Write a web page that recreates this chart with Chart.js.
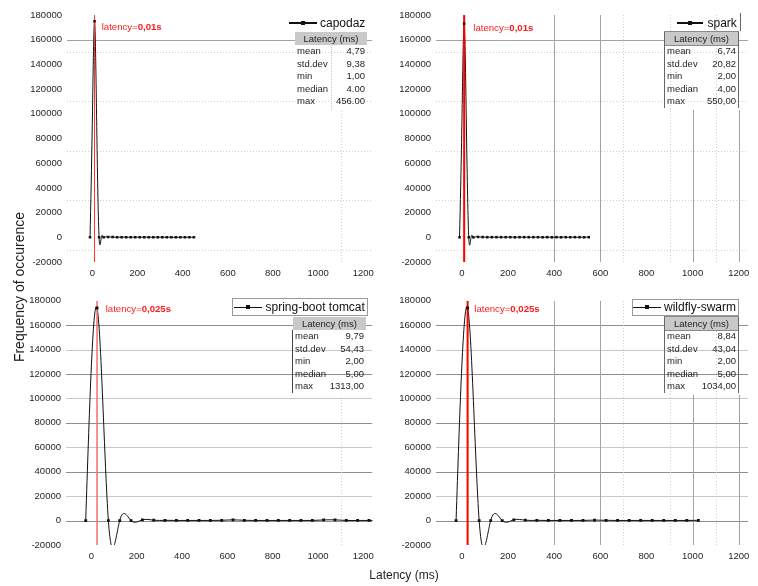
<!DOCTYPE html>
<html>
<head>
<meta charset="utf-8">
<script src="https://cdn.jsdelivr.net/npm/chart.js@4.4.1/dist/chart.umd.min.js"></script>
<style>
  body { margin: 0; background: #fff; font-family: "Liberation Sans", Arial, sans-serif; }
  #page { position: relative; width: 758px; height: 586px; overflow: hidden; }
  #page canvas { position: absolute; }
  .txt { position: absolute; white-space: nowrap; color: #1e1e1e; line-height: 12px; }
  .red { color: #ff1a1a; font-size: 9.6px; }
  .tbl { position: absolute; font-size: 9.5px; color: #1e1e1e; }
  .tbl .hd { height: 13px; line-height: 13px; background: #c9c9c9; text-align: center; }
  .tbl .row { height: 12.6px; line-height: 12.6px; display: flex; justify-content: space-between; padding: 0 2px 0 2px; }
  .leg-line { position: absolute; background: #111; }
  .leg-mark { position: absolute; width: 4px; height: 4px; background: #111; }
</style>
</head>
<body>
<div id="page"></div>
<script>
// latency bins (ms) and counts
const capodazLatency = [
  -10, 0, 10, 20, 30, 40, 50, 60, 70, 80,
  90, 100, 110, 120, 130, 140, 150, 160, 170, 180,
  190, 200, 210, 220, 230, 240, 250, 260, 270, 280,
  290, 300, 310, 320, 330, 340, 350, 360, 370, 380,
  390, 400, 410, 420, 430, 440, 450
];
const capodazCount = [
  0, 92000, 175000, 86000, 0, 0, 0, 400, 300, 200,
  200, 100, 100, 100, 100, 100, 100, 0, 100, 100,
  100, 100, 0, 100, 100, 100, 0, 100, 100, 100,
  0, 100, 100, 0, 100, 100, 0, 0, 100, 0,
  100, 0, 0, 100, 0, 0, 100
];

const sparkLatency = [
  -10, 0, 10, 20, 30, 40, 50, 60, 70, 80,
  90, 100, 110, 120, 130, 140, 150, 160, 170, 180,
  190, 200, 210, 220, 230, 240, 250, 260, 270, 280,
  290, 300, 310, 320, 330, 340, 350, 360, 370, 380,
  390, 400, 410, 420, 430, 440, 450, 460, 470, 480,
  490, 500, 510, 520, 530, 540, 550
];
const sparkCount = [
  0, 90000, 173000, 87000, 0, 0, 0, 400, 300, 200,
  200, 100, 100, 100, 100, 100, 100, 100, 100, 100,
  100, 100, 100, 100, 0, 100, 100, 100, 100, 100,
  100, 0, 100, 100, 100, 100, 0, 100, 100, 100,
  0, 100, 100, 100, 0, 100, 100, 0, 100, 100,
  100, 0, 100, 100, 0, 100, 100
];

const springLatency = [
  -25, 25, 75, 125, 175, 225, 275, 325, 375, 425,
  475, 525, 575, 625, 675, 725, 775, 825, 875, 925,
  975, 1025, 1075, 1125, 1175, 1225, 1275, 1325
];
const springCount = [
  0, 174000, 0, 0, 0, 600, 300, 200, 100, 100,
  100, 100, 200, 600, 200, 100, 100, 100, 100, 100,
  100, 500, 600, 100, 100, 100, 100, 100
];

const wildflyLatency = [
  -25, 25, 75, 125, 175, 225, 275, 325, 375, 425,
  475, 525, 575, 625, 675, 725, 775, 825, 875, 925,
  975, 1025
];
const wildflyCount = [
  0, 174000, 0, 0, 0, 600, 300, 200, 100, 100,
  100, 100, 400, 200, 100, 100, 100, 100, 100, 100,
  100, 200
];

const seriesNames = ['capodaz', 'spark', 'spring-boot tomcat', 'wildfly-swarm'];
const latencyMarks = [10, 10, 25, 25];
const latencyLabels = ['0,01s', '0,01s', '0,025s', '0,025s'];

const statLabels = ['mean', 'std.dev', 'min', 'median', 'max'];
const capodazStats = ['4,79', '9,38', '1,00', '4.00', '456.00'];
const sparkStats = ['6,74', '20,82', '2,00', '4,00', '550,00'];
const springStats = ['9,79', '54,43', '2,00', '5,00', '1313,00'];
const wildflyStats = ['8,84', '43,04', '2,00', '5,00', '1034,00'];

const yTicks = { min: -20000, max: 180000, step: 20000 };
const xTicks = { min: -112, max: 1240, step: 200 };

// reference lines of the original figure (data units)
const topGrid = [[160000, 'solid'], [150000, 'dot'], [110000, 'dot'], [70000, 'dot'], [30000, 'dot'], [-10000, 'dot']];
const bottomGrid = [[160000, 'dark'], [140000, 'light'], [120000, 'dark'], [100000, 'light'], [80000, 'dark'],
  [60000, 'light'], [40000, 'dark'], [20000, 'light'], [0, 'dark'], [-20000, 'dark']];
const leftVLines = [[1100, 'dot', -20000, 103000]];
const rightVLines = [[400, 'solid'], [600, 'solid'], [700, 'dot'], [900, 'dot'], [1100, 'dot'],
  [1000, 'solid', -20000, 103000], [1200, 'solid', -20000, 103000]];

const lineStyles = {
  solid: { color: '#a3a3a3', dash: [] },
  dark: { color: '#8e8e8e', dash: [] },
  light: { color: '#c8c8c8', dash: [] },
  dot: { color: '#cfcfcf', dash: [1, 2] }
};

const FONT = '"Liberation Sans", Arial, sans-serif';

const panels = [
  { name: seriesNames[0], xs: capodazLatency, ys: capodazCount, stats: capodazStats, lat: latencyMarks[0], latText: latencyLabels[0],
    left: 0, top: 0, w: 380, h: 290, yAxisW: 67, xAxisH: 28, padTop: 15, padRight: 0, markEvery: 2, markR: 1.8,
    hLines: topGrid, vLines: leftVLines, red: { color: '#ff2a2a', width: 1 },
    legend: { x1: 289, x2: 317, y: 22.7, tx: 320, lw: 2 }, redLabel: { x: 101.7, y: 27.3 },
    table: { left: 295, top: 32, w: 72, sides: 'sep' } },
  { name: seriesNames[1], xs: sparkLatency, ys: sparkCount, stats: sparkStats, lat: latencyMarks[1], latText: latencyLabels[1],
    left: 380, top: 0, w: 378, h: 290, yAxisW: 56, xAxisH: 28, padTop: 15, padRight: 10, markEvery: 2, markR: 1.8,
    hLines: topGrid, vLines: rightVLines, red: { color: '#ff0000', width: 2 },
    legend: { x1: 677, x2: 703, y: 22.7, tx: 707.5, edge: 740, lw: 2 }, redLabel: { x: 473.3, y: 27.7 },
    table: { left: 665, top: 32, w: 73, sides: 'both' } },
  { name: seriesNames[2], xs: springLatency, ys: springCount, stats: springStats, lat: latencyMarks[2], latText: latencyLabels[2],
    left: 0, top: 290, w: 380, h: 296, yAxisW: 66, xAxisH: 41, padTop: 8, padRight: 0, markEvery: 1, markR: 2,
    hLines: bottomGrid, vLines: leftVLines, red: { color: '#f26d6d', width: 1.5 },
    legend: { x1: 234, x2: 262, y: 307.3, tx: 265.5, box: [232, 298, 136, 18], lw: 1.3 }, redLabel: { x: 105.7, y: 309 },
    table: { left: 293, top: 317, w: 73, sides: 'left' } },
  { name: seriesNames[3], xs: wildflyLatency, ys: wildflyCount, stats: wildflyStats, lat: latencyMarks[3], latText: latencyLabels[3],
    left: 380, top: 290, w: 378, h: 296, yAxisW: 56, xAxisH: 41, padTop: 8, padRight: 10, markEvery: 1, markR: 2,
    hLines: bottomGrid, vLines: rightVLines, red: { color: '#ff0000', width: 2 },
    legend: { x1: 633, x2: 661, y: 307.3, tx: 664, box: [632, 299, 107, 17], lw: 1.3 }, redLabel: { x: 474.3, y: 309 },
    table: { left: 665, top: 317, w: 73, sides: 'both' } }
];

// natural cubic spline second derivatives (the figure's curves are spline-connected)
function naturalSpline(xs, ys) {
  const n = xs.length;
  const M = new Array(n).fill(0);
  if (n < 3) return M;
  const a = [], b = [], c = [], d = [];
  for (let i = 1; i < n - 1; i++) {
    const h0 = xs[i] - xs[i - 1], h1 = xs[i + 1] - xs[i];
    a.push(h0); b.push(2 * (h0 + h1)); c.push(h1);
    d.push(6 * ((ys[i + 1] - ys[i]) / h1 - (ys[i] - ys[i - 1]) / h0));
  }
  const m = a.length;
  for (let i = 1; i < m; i++) {
    const w = a[i] / b[i - 1];
    b[i] -= w * c[i - 1];
    d[i] -= w * d[i - 1];
  }
  const sol = new Array(m);
  sol[m - 1] = d[m - 1] / b[m - 1];
  for (let i = m - 2; i >= 0; i--) sol[i] = (d[i] - c[i] * sol[i + 1]) / b[i];
  for (let i = 0; i < m; i++) M[i + 1] = sol[i];
  return M;
}

const refLinesPlugin = {
  id: 'refLines',
  beforeDatasetsDraw(chart, args, opts) {
    const { ctx, chartArea: area, scales: { x, y } } = chart;
    ctx.save();
    ctx.beginPath(); ctx.rect(area.left, area.top, area.width, area.height); ctx.clip();
    ctx.lineWidth = 1;
    opts.h.forEach(([v, s]) => {
      const st = lineStyles[s];
      const py = Math.round(y.getPixelForValue(v)) + 0.5;
      ctx.strokeStyle = st.color; ctx.setLineDash(st.dash);
      ctx.beginPath(); ctx.moveTo(area.left, py); ctx.lineTo(area.right, py); ctx.stroke();
    });
    opts.v.forEach(([v, s, from, to]) => {
      const st = lineStyles[s];
      const px = Math.round(x.getPixelForValue(v)) + 0.5;
      const y0 = from === undefined ? area.bottom : y.getPixelForValue(from);
      const y1 = to === undefined ? area.top : y.getPixelForValue(to);
      ctx.strokeStyle = st.color; ctx.setLineDash(st.dash);
      ctx.beginPath(); ctx.moveTo(px, y0); ctx.lineTo(px, y1); ctx.stroke();
    });
    ctx.restore();
  }
};

const splinePlugin = {
  id: 'splineLine',
  beforeDatasetsDraw(chart) {
    const pts = chart.data.datasets[0].data;
    const xs = pts.map(p => p.x), ys = pts.map(p => p.y);
    const M = naturalSpline(xs, ys);
    const { ctx, chartArea: area, scales: { x: sx, y: sy } } = chart;
    ctx.save();
    ctx.beginPath(); ctx.rect(area.left, area.top, area.width, area.height); ctx.clip();
    ctx.beginPath();
    ctx.moveTo(sx.getPixelForValue(xs[0]), sy.getPixelForValue(ys[0]));
    for (let i = 0; i < xs.length - 1; i++) {
      const h = xs[i + 1] - xs[i];
      const s = (ys[i + 1] - ys[i]) / h;
      const d0 = s - h * (2 * M[i] + M[i + 1]) / 6;
      const d1 = s + h * (M[i] + 2 * M[i + 1]) / 6;
      ctx.bezierCurveTo(
        sx.getPixelForValue(xs[i] + h / 3), sy.getPixelForValue(ys[i] + d0 * h / 3),
        sx.getPixelForValue(xs[i + 1] - h / 3), sy.getPixelForValue(ys[i + 1] - d1 * h / 3),
        sx.getPixelForValue(xs[i + 1]), sy.getPixelForValue(ys[i + 1]));
    }
    ctx.strokeStyle = '#111';
    ctx.lineWidth = 1;
    ctx.stroke();
    ctx.restore();
  }
};

const page = document.getElementById('page');

function el(cls, css, html) {
  const d = document.createElement('div');
  if (cls) d.className = cls;
  Object.assign(d.style, css);
  if (html !== undefined) d.innerHTML = html;
  page.appendChild(d);
  return d;
}

function px(v) { return v + 'px'; }

function drawPanel(p) {
  const canvas = document.createElement('canvas');
  canvas.width = p.w; canvas.height = p.h;
  canvas.style.left = px(p.left); canvas.style.top = px(p.top);
  page.appendChild(canvas);

  new Chart(canvas.getContext('2d'), {
    type: 'scatter',
    data: {
      datasets: [{
        label: p.name,
        data: p.xs.map((x, i) => ({ x: x, y: p.ys[i] })),
        showLine: false,
        pointStyle: 'rect',
        pointRadius: ctx => (ctx.dataIndex % p.markEvery === 0 ? p.markR : 0),
        pointBackgroundColor: '#111',
        pointBorderWidth: 0
      }, {
        label: 'latency',
        data: [{ x: p.lat, y: yTicks.min }, { x: p.lat, y: yTicks.max }],
        showLine: true,
        borderColor: p.red.color,
        borderWidth: p.red.width,
        pointRadius: 0
      }]
    },
    options: {
      responsive: false,
      animation: false,
      devicePixelRatio: 1,
      events: [],
      layout: { padding: { top: p.padTop, right: p.padRight, left: 0, bottom: 0 } },
      plugins: {
        legend: { display: false },
        tooltip: { enabled: false },
        refLines: { h: p.hLines, v: p.vLines }
      },
      scales: {
        x: {
          type: 'linear', min: xTicks.min, max: xTicks.max,
          afterFit: s => { s.height = p.xAxisH; },
          grid: { display: false, drawTicks: false },
          border: { display: false },
          ticks: { stepSize: xTicks.step, includeBounds: false, autoSkip: false, maxRotation: 0, padding: 6,
            color: '#262626', font: { family: FONT, size: 9.5 }, callback: v => String(v) }
        },
        y: {
          type: 'linear', min: yTicks.min, max: yTicks.max,
          afterFit: s => { s.width = p.yAxisW; },
          grid: { display: false, drawTicks: false },
          border: { display: false },
          ticks: { stepSize: yTicks.step, autoSkip: false, padding: 5,
            color: '#262626', font: { family: FONT, size: 9.5 }, callback: v => String(v) }
        }
      }
    },
    plugins: [refLinesPlugin, splinePlugin]
  });

  // legend
  const lg = p.legend;
  if (lg.box) {
    el('', { position: 'absolute', left: px(lg.box[0]), top: px(lg.box[1]), width: px(lg.box[2]), height: px(lg.box[3]),
      border: '1px solid #9a9a9a', boxSizing: 'border-box', background: '#fff' });
  }
  if (lg.edge) {
    el('', { position: 'absolute', left: px(lg.edge), top: '13px', width: '1px', height: '18px', background: '#666' });
  }
  el('leg-line', { left: px(lg.x1), top: px(lg.y - lg.lw / 2), width: px(lg.x2 - lg.x1), height: px(lg.lw) });
  el('leg-mark', { left: px((lg.x1 + lg.x2) / 2 - 2), top: px(lg.y - 2) });
  el('txt', { left: px(lg.tx), top: px(lg.y - 7), fontSize: '12px', lineHeight: '14px', color: '#111' }, p.name);

  // red latency label
  el('txt red', { left: px(p.redLabel.x), top: px(p.redLabel.y - 6) }, 'latency=<b>' + p.latText + '</b>');

  // statistics table
  const t = p.table;
  const tbl = el('tbl', { left: px(t.left), top: px(t.top), width: px(t.w) });
  const hd = document.createElement('div');
  hd.className = 'hd';
  hd.textContent = 'Latency (ms)';
  tbl.appendChild(hd);
  statLabels.forEach((lab, i) => {
    const r = document.createElement('div');
    r.className = 'row';
    const a = document.createElement('span'); a.textContent = lab;
    const b = document.createElement('span'); b.textContent = p.stats[i];
    r.appendChild(a); r.appendChild(b);
    tbl.appendChild(r);
  });
  const tblH = 13 + 12.6 * statLabels.length;
  if (t.sides === 'both') {
    hd.style.outline = '1px solid #8a8a8a';
    el('', { position: 'absolute', left: px(t.left - 1), top: px(t.top), width: '1px', height: px(tblH), background: '#666' });
    el('', { position: 'absolute', left: px(t.left + t.w), top: px(t.top), width: '1px', height: px(tblH), background: '#666' });
  } else if (t.sides === 'left') {
    el('', { position: 'absolute', left: px(t.left - 1), top: px(t.top + 13), width: '1px', height: px(tblH - 13), background: '#444' });
  } else {
    el('', { position: 'absolute', left: px(t.left + 36), top: px(t.top + 13), width: '0', height: px(tblH - 11), borderLeft: '1px dotted #c8c8c8' });
  }
}

panels.forEach(drawPanel);

// shared axis titles
el('txt', { left: '19px', top: '287px', width: '220px', textAlign: 'center', fontSize: '14px', lineHeight: '16px',
  transform: 'translate(-50%, -50%) rotate(-90deg)' }, 'Frequency of occurence');
el('txt', { left: '404px', top: '575px', width: '120px', textAlign: 'center', fontSize: '12px', lineHeight: '14px',
  transform: 'translate(-50%, -50%)' }, 'Latency (ms)');
</script>
</body>
</html>
